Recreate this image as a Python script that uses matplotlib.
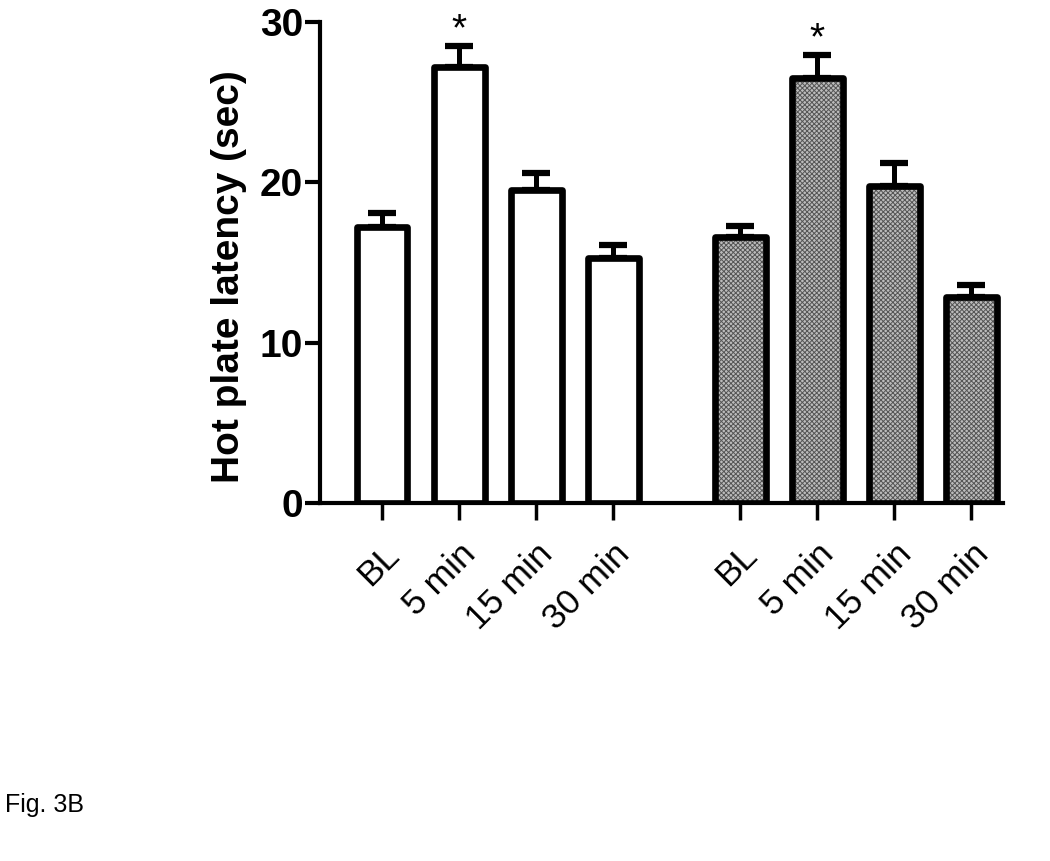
import numpy as np
import matplotlib
matplotlib.use('Agg')
import matplotlib.pyplot as plt
import matplotlib.transforms as mtransforms

plt.rcParams['font.family'] = ['Liberation Sans', 'DejaVu Sans']
plt.rcParams['hatch.linewidth'] = 0.7

# datos
time_labels = ['BL', '5 min', '15 min', '30 min']
control_mean = [17.2, 27.2, 19.5, 15.3]
control_sem = [0.9, 1.3, 1.1, 0.8]
treated_mean = [16.6, 26.5, 19.8, 12.85]
treated_sem = [0.7, 1.45, 1.4, 0.75]
significant = ['5 min']

x1 = np.arange(len(time_labels))
x2 = x1 + 4.65
width = 0.66

fig = plt.figure(figsize=(10.5, 8.61), dpi=100)
ax = fig.add_axes([0.3048, 0.4158, 0.6504, 0.5586])

# barras blancas
ax.bar(x1, control_mean, width, color='white', edgecolor='black',
       linewidth=4.8, joinstyle='round', zorder=3)
# barras con trama gris
ax.bar(x2, treated_mean, width, color='#bcbcbc', edgecolor='#555555',
       hatch='x' * 7, linewidth=0, zorder=3)
ax.bar(x2, treated_mean, width, fill=False, edgecolor='black',
       linewidth=4.8, joinstyle='round', zorder=4)

# barras de error (solo hacia arriba)
for xs, m, s in [(x1, control_mean, control_sem), (x2, treated_mean, treated_sem)]:
    ax.errorbar(xs, m, yerr=[np.zeros(len(s)), s], fmt='none', ecolor='black',
                elinewidth=3.6, capsize=10, capthick=4.5, zorder=2)

# asteriscos
for xs, m, s in [(x1, control_mean, control_sem), (x2, treated_mean, treated_sem)]:
    for i, lab in enumerate(time_labels):
        if lab in significant:
            ax.text(xs[i], m[i] + s[i] + 0.35, '*', ha='center', va='baseline',
                    fontsize=28, zorder=5)

ax.set_xlim(-0.805, 8.06)
ax.set_ylim(0, 30)
ax.set_yticks([0, 10, 20, 30])
ax.set_xticks(np.concatenate([x1, x2]))
ax.set_xticklabels(time_labels * 2, rotation=45, ha='right', va='top',
                   rotation_mode='anchor', fontsize=25.5)
for lab in ax.get_yticklabels():
    lab.set_fontsize(28)
    lab.set_fontweight('bold')

offset = mtransforms.ScaledTranslation(-6 / 100, 0, fig.dpi_scale_trans)
for lab in ax.get_xticklabels():
    lab.set_transform(lab.get_transform() + offset)

ax.spines['top'].set_visible(False)
ax.spines['right'].set_visible(False)
ax.spines['left'].set_linewidth(3)
ax.spines['bottom'].set_linewidth(3)
ax.tick_params(axis='y', length=11, width=3, pad=1)
ax.tick_params(axis='x', length=12, width=2.5, pad=13)

ax.set_ylabel('Hot plate latency (sec)', fontsize=28, fontweight='bold')
ax.yaxis.set_label_coords(-0.107, 0.47)

fig.text(0.005, 0.057, 'Fig. 3B', fontsize=18, ha='left', va='baseline')

fig.savefig('out.png', dpi=100)
